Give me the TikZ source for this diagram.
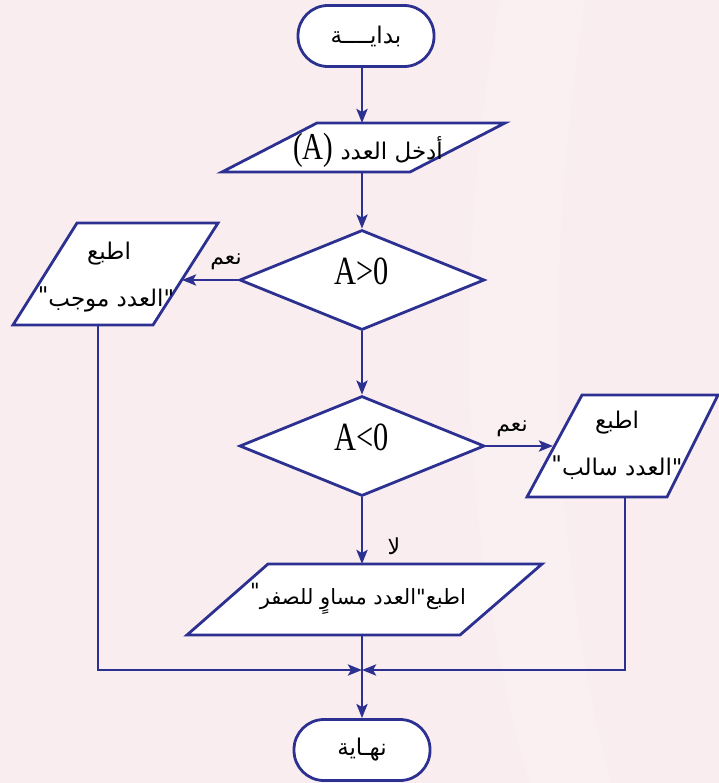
\documentclass[tikz,border=0pt]{standalone}
\usepackage{fontspec}
\usetikzlibrary{arrows.meta,shapes.geometric}
\TeXXeTstate=1
\newfontfamily\arfont[Script=Arabic]{DejaVu Sans}
\newfontfamily\latfont[FakeStretch=0.76]{Liberation Serif}
\definecolor{flowblue}{RGB}{44,48,145}
\definecolor{pagepink}{RGB}{250,237,239}

\begin{document}
\begin{tikzpicture}[x=1bp,y=-1bp,
  line/.style={draw=flowblue, line width=2.8bp},
  arr/.style={line, -{Stealth[length=14bp,width=11bp,inset=3bp]}},
  shapebox/.style={line, fill=white, line join=miter},
  decision/.style={line, fill=white, diamond, aspect=2.45, inner sep=0pt,
    minimum width=245bp, minimum height=100bp},
  term/.style={line, fill=white, rounded corners=30bp, inner sep=0pt,
    minimum width=136bp, minimum height=61bp, text=black,
    font=\arfont\fontsize{23bp}{28bp}\selectfont},
  artext/.style={inner sep=0pt, text=black, align=center,
    font=\arfont\fontsize{23bp}{47bp}\selectfont},
  lattext/.style={inner sep=0pt, text=black,
    font=\latfont\fontsize{40bp}{40bp}\selectfont},
  lbl/.style={inner sep=0pt, text=black, font=\arfont\fontsize{22bp}{26bp}\selectfont}
]
\useasboundingbox (0,0) rectangle (719,783);
\fill[pagepink] (0,0) rectangle (719,783);
\fill[white, opacity=0.18] (500,0) .. controls (455,260) and (455,520) .. (530,783)
  -- (610,783) .. controls (545,520) and (545,260) .. (585,0) -- cycle;

% start terminal
\node[term] (start) at (366,36) {\beginR بدايــــة\endR};

% input
\draw[shapebox] (317,123) -- (505,123) -- (410,172) -- (222,172) -- cycle;
\coordinate (inTop) at (362,123);
\coordinate (inBot) at (362,172);
\node[artext, anchor=base] (intxt) at (368,159)
  {{\latfont\fontsize{38bp}{38bp}\selectfont(A)}\ \beginR أدخل العدد\endR};

% first decision
\node[decision] (d1) at (362,280) {};
\node[lattext, anchor=base] (d1txt) at (362,284) {A>0};

% positive branch
\draw[shapebox] (77,223) -- (218,223) -- (153,325) -- (13,325) -- cycle;
\coordinate (lpIn) at (182,280);
\coordinate (lpOut) at (98,325);
\node[artext] (lptxt) at (106,277)
  {\hspace*{6bp}\beginR اطبع\endR\\\raisebox{3bp}{"}\beginR العدد موجب\endR"};
\node[lbl] (yes1) at (226,262) {\beginR نعم\endR};

% second decision
\node[decision] (d2) at (362,446) {};
\node[lattext, anchor=base] (d2txt) at (362,450) {A<0};

% negative branch
\draw[shapebox] (582,395) -- (718,395) -- (667,497) -- (527,497) -- cycle;
\coordinate (rpIn) at (553,446);
\coordinate (rpOut) at (625,497);
\node[artext] (rptxt) at (617,445)
  {\beginR اطبع\endR\\\raisebox{3bp}{"}\beginR العدد سالب\endR"};
\node[lbl] (yes2) at (512,429) {\beginR نعم\endR};

% zero branch
\node[lbl] (no) at (394,546) {\beginR لا\endR};
\draw[shapebox] (268,564) -- (542,564) -- (460,635) -- (187,635) -- cycle;
\coordinate (bpTop) at (362,564);
\coordinate (bpBot) at (362,635);
\node[artext, font=\arfont\fontsize{21bp}{26bp}\selectfont] (bptxt) at (358,599)
  {\raisebox{6bp}{"}\beginR العدد مساوٍ للصفر\endR"\beginR اطبع\endR};

% end terminal
\node[term] (stop) at (362,750) {\beginR نهـاية\endR};
\coordinate (join) at (362,670);

% connectors
\draw[arr] (start.south -| inTop) -- (inTop);
\draw[arr] (inBot) -- (d1.north);
\draw[arr] (d1.west) -- (lpIn);
\draw[arr] (d1.south) -- (d2.north);
\draw[arr] (d2.east) -- (rpIn);
\draw[arr] (d2.south) -- (bpTop);
\draw[arr] (bpBot) -- (stop.north);
\draw[arr] (lpOut) |- (join);
\draw[arr] (rpOut) |- (join);
\end{tikzpicture}
\end{document}
